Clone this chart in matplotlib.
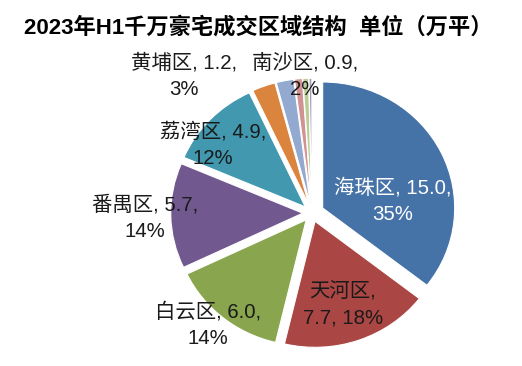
import matplotlib
matplotlib.use("Agg")
import numpy as np
import matplotlib.pyplot as plt

# =========================================================
# DATA
# =========================================================

districts = ["海珠区", "天河区", "白云区", "番禺区", "荔湾区",
             "黄埔区", "南沙区", "花都区", "增城区", "从化区"]
values = [15.0, 7.7, 6.0, 5.7, 4.9, 1.2, 0.9, 0.4, 0.3, 0.15]
pct_text = ["35%", "18%", "14%", "14%", "12%", "3%", "2%", "", "", ""]

colors = ["#4572A7", "#AA4643", "#89A54E", "#71588F", "#4198AF",
          "#DB843D", "#93A9CF", "#D19392", "#B9CD96", "#A99BBD"]

plt.rcParams["font.family"] = ["Liberation Sans", "Noto Sans CJK SC", "DejaVu Sans"]

# =========================================================
# PLOT
# =========================================================

fig = plt.figure(figsize=(5.22, 3.66), dpi=100)
ax = fig.add_axes([0, 0, 1, 1])

explode = [0.09] + [0.07] * (len(values) - 1)

ax.pie(
    values,
    colors=colors,
    explode=explode,
    startangle=90,
    counterclock=False,
    wedgeprops=dict(edgecolor="white", linewidth=0.8),
)

# pixel scale: center at (312, 213) px, rx=132 px, ry=126 px
ax.set_aspect("auto")
ax.set_xlim(-312 / 132, (522 - 312) / 132)
ax.set_ylim(-153 / 126, (366 - 153) / 126)
ax.axis("off")

# label layout (pixel positions of label centers -> data units)
label_px = [(393, 201), (343, 304), (208, 325), (145, 218),
            (213, 145), (184, 76), (305, 76)]


def px2data(px, py):
    return (px - 312) / 132, (213 - py) / 126


for i, (px, py) in enumerate(label_px):
    x, y = px2data(px, py)
    name = districts[i]
    if i == 1:
        txt = f"{name},\n{values[i]:.1f}, {pct_text[i]}"
    else:
        txt = f"{name}, {values[i]:.1f},\n{pct_text[i]}"
    ax.text(
        x, y, txt,
        ha="center", va="center",
        fontsize=14.7,
        color="white" if i == 0 else "#1a1a1a",
        linespacing=1.5,
    )

fig.text(
    0.495, 1 - 28 / 366,
    "2023年H1千万豪宅成交区域结构  单位（万平）",
    ha="center", va="center",
    fontsize=16,
    fontweight="bold",
)

fig.savefig("out.png", dpi=100)
